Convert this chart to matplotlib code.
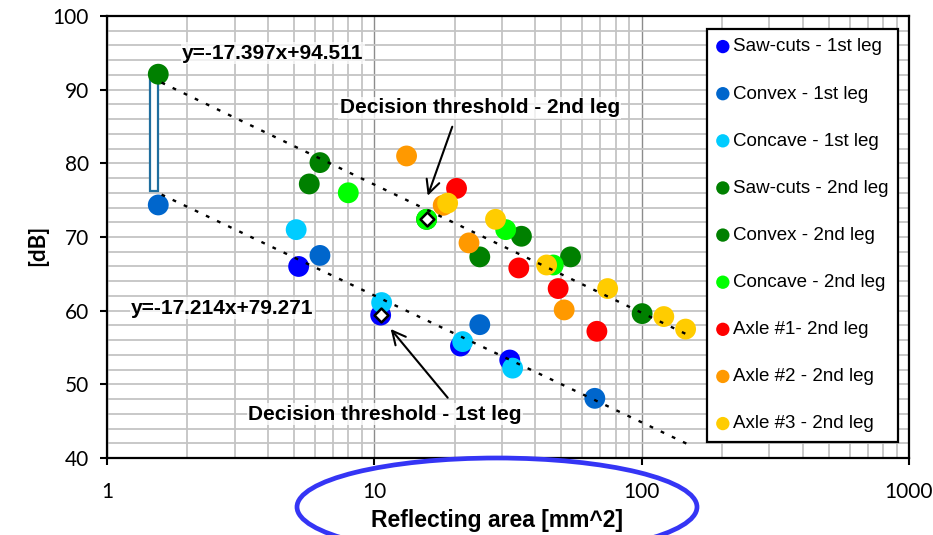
import numpy as np
import matplotlib
matplotlib.use("Agg")
import matplotlib.pyplot as plt
from matplotlib.patches import Ellipse, Rectangle
from matplotlib.ticker import NullFormatter, LogLocator

# ---------------- data ----------------
series_names = ["Saw-cuts - 1st leg", "Convex - 1st leg", "Concave - 1st leg",
                "Saw-cuts - 2nd leg", "Convex - 2nd leg", "Concave - 2nd leg",
                "Axle #1- 2nd leg", "Axle #2 - 2nd leg", "Axle #3 - 2nd leg"]
series_colors = ["#0000FF", "#0066CC", "#00CCFF",
                 "#008000", "#008000", "#00FF00",
                 "#FF0000", "#FF9900", "#FFCC00"]

sawcuts1_x = [5.21, 10.56, 21.0, 32.1]
sawcuts1_y = [66.0, 59.4, 55.2, 53.3]
convex1_x = [1.555, 6.26, 24.8, 66.8]
convex1_y = [74.35, 67.5, 58.1, 48.1]
concave1_x = [5.10, 10.65, 21.4, 32.9]
concave1_y = [71.0, 61.1, 55.8, 52.2]
sawcuts2_x = [5.71, 15.69, 35.5, 54.2]
sawcuts2_y = [77.2, 72.4, 70.1, 67.3]
convex2_x = [1.555, 6.26, 24.8, 100.4]
convex2_y = [92.1, 80.1, 67.3, 59.6]
concave2_x = [7.99, 15.69, 31.0, 46.7]
concave2_y = [76.0, 72.4, 71.0, 66.2]
axle1_x = [20.3, 34.7, 48.7, 68.0]
axle1_y = [76.6, 65.8, 63.0, 57.2]
axle2_x = [13.2, 18.1, 22.6, 51.3]
axle2_y = [81.0, 74.3, 69.2, 60.1]
axle3_x = [18.8, 28.4, 44.1, 74.6, 121.0, 146.0]
axle3_y = [74.6, 72.4, 66.2, 63.0, 59.2, 57.5]

series_x = [sawcuts1_x, convex1_x, concave1_x, sawcuts2_x, convex2_x,
            concave2_x, axle1_x, axle2_x, axle3_x]
series_y = [sawcuts1_y, convex1_y, concave1_y, sawcuts2_y, convex2_y,
            concave2_y, axle1_y, axle2_y, axle3_y]

# decision thresholds (white diamonds)
threshold_x = [10.56, 15.69]
threshold_y = [59.4, 72.4]

# trend lines  y = a*log10(x) + b
trend_upper = (-17.397, 94.511)
trend_lower = (-17.214, 79.271)
trend_range = (1.6, 150.0)
gap_x = 1.5

x_ticks = [1, 10, 100, 1000]
x_ticklabels = ["1", "10", "100", "1000"]
y_ticks = [40, 50, 60, 70, 80, 90, 100]

# ---------------- figure ----------------
W, H = 933, 535
fig = plt.figure(figsize=(W / 100, H / 100), dpi=100)
ax = fig.add_axes([107 / W, 1 - 458 / H, 802 / W, 442 / H])

ax.set_xscale("log")
ax.set_xlim(1, 1000)
ax.set_ylim(40, 100)

ax.set_xticks(x_ticks)
ax.set_xticklabels(x_ticklabels)
ax.xaxis.set_minor_locator(LogLocator(base=10, subs=np.arange(2, 10)))
ax.xaxis.set_minor_formatter(NullFormatter())
ax.set_yticks(y_ticks)
ax.set_yticks(np.arange(40, 101, 2), minor=True)

ax.set_axisbelow(True)
ax.grid(which="minor", axis="both", color="#C4C4C4", lw=1.3)
ax.grid(which="major", axis="y", color="#C4C4C4", lw=1.3)
ax.grid(which="major", axis="x", color="#8C8C8C", lw=1.0)

for s in ax.spines.values():
    s.set_color("black")
    s.set_linewidth(1.6)

ax.tick_params(which="major", direction="out", length=5, width=1.5,
               labelsize=15, colors="black")
ax.tick_params(axis="y", which="major", pad=8)
ax.tick_params(axis="x", which="major", pad=12)
ax.tick_params(which="minor", length=0)
for lab in ax.get_xticklabels() + ax.get_yticklabels():
    lab.set_family(["Lato", "DejaVu Sans"])

# scatter series
handles = []
for xs, ys, c, name in zip(series_x, series_y, series_colors, series_names):
    h = ax.scatter(xs, ys, s=225, color=c, edgecolors="none", zorder=3, label=name)
    handles.append(h)

# trend lines
tx = np.logspace(np.log10(trend_range[0]), np.log10(trend_range[1]), 200)
for a, b in (trend_upper, trend_lower):
    ax.plot(tx, a * np.log10(tx) + b, color="black", lw=1.7,
            linestyle=(0, (1.6, 3.6)), zorder=4)

# gap indicator rectangle
yu = trend_upper[0] * np.log10(gap_x) + trend_upper[1]
yl = trend_lower[0] * np.log10(gap_x) + trend_lower[1]
ax.add_patch(Rectangle((gap_x * 0.967, yl), gap_x * 0.067, yu - yl,
                       facecolor="white", edgecolor="#1F6E9E", lw=1.6, zorder=2))

# decision threshold diamonds
ax.scatter(threshold_x, threshold_y, marker="D", s=50, facecolor="white",
           edgecolor="black", linewidths=1.8, zorder=5)

# annotations
bold_font = ["Liberation Sans", "DejaVu Sans"]
tbox = dict(facecolor="white", edgecolor="none", alpha=0.75, pad=1.0)
ax.text(0.207, 0.9156, "y=-17.397x+94.511", transform=ax.transAxes,
        ha="center", va="center", fontsize=15, fontweight="bold",
        family=bold_font, bbox=tbox, zorder=6)
ax.text(0.144, 0.3387, "y=-17.214x+79.271", transform=ax.transAxes,
        ha="center", va="center", fontsize=15, fontweight="bold",
        family=bold_font, bbox=tbox, zorder=6)
ax.text(0.465, 0.792, "Decision threshold - 2nd leg", transform=ax.transAxes,
        ha="center", va="center", fontsize=15, fontweight="bold",
        family=bold_font, bbox=tbox, zorder=6)
ax.text(0.3466, 0.0995, "Decision threshold - 1st leg", transform=ax.transAxes,
        ha="center", va="center", fontsize=15, fontweight="bold",
        family=bold_font, bbox=tbox, zorder=6)

arrow = dict(arrowstyle="->", color="black", lw=1.5, mutation_scale=24,
             shrinkA=0, shrinkB=0)
ax.annotate("", xy=(0.3999, 0.5934), xytext=(0.4305, 0.7495),
            xycoords="axes fraction", textcoords="axes fraction",
            arrowprops=arrow, zorder=6)
ax.annotate("", xy=(0.3537, 0.2919), xytext=(0.4248, 0.1364),
            xycoords="axes fraction", textcoords="axes fraction",
            arrowprops=arrow, zorder=6)

# legend
leg = ax.legend(handles=handles, loc="upper left", bbox_to_anchor=(0.748, 0.9706),
                frameon=True, fancybox=False, edgecolor="black", framealpha=1,
                markerscale=0.64, handlelength=0.7,
                handletextpad=0.2, borderpad=0.5, labelspacing=1.6,
                borderaxespad=0, prop={"family": ["Liberation Sans", "DejaVu Sans"], "size": 13.5})
leg.get_frame().set_linewidth(1.6)
leg.set_zorder(10)

# axis titles
fig.text(38 / W, 1 - 245 / H, "[dB]", rotation=90, ha="center", va="center",
         fontsize=16, fontweight="bold", family=["Lato", "DejaVu Sans"])
fig.text(497 / W, 1 - 520 / H, "Reflecting area [mm^2]", ha="center", va="center",
         fontsize=16.5, fontweight="bold", family=["Liberation Sans", "DejaVu Sans"])

# blue ellipse around x-axis title
fig.patches.append(Ellipse((497 / W, 1 - 507 / H), 400 / W, 98 / H,
                           transform=fig.transFigure, fill=False,
                           edgecolor="#3535F5", lw=3.4))

fig.savefig("out.png", dpi=100)
